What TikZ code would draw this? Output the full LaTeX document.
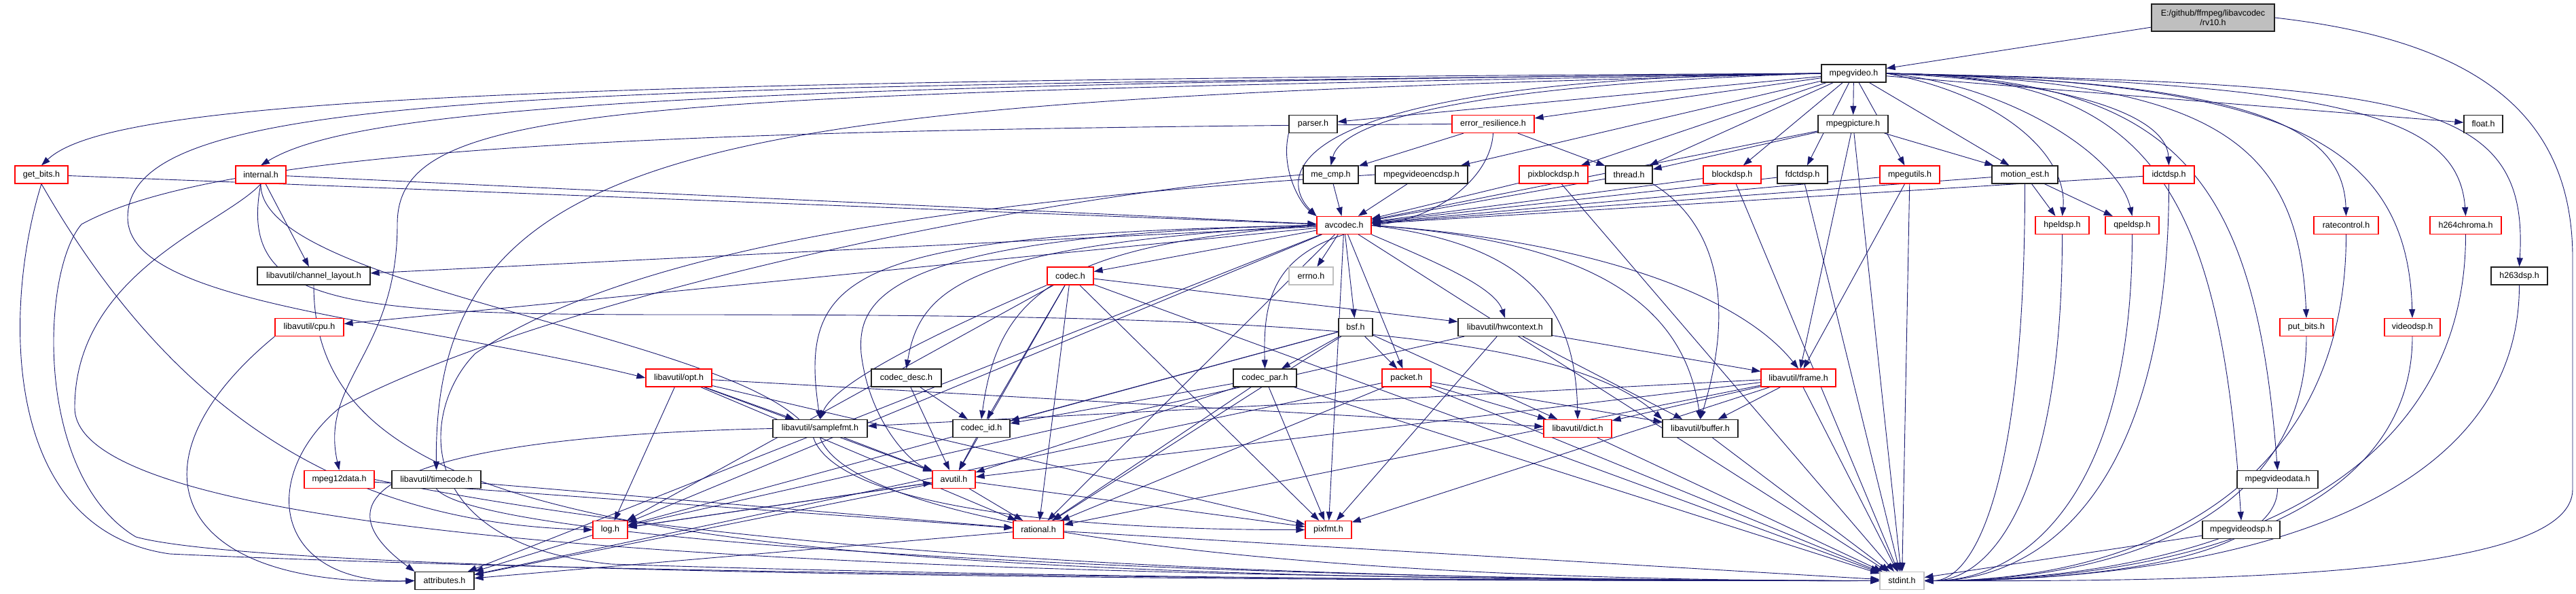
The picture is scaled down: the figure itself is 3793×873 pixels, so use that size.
\documentclass[tikz,border=0pt]{standalone}
\usepackage{fontspec}
\setmainfont{Liberation Sans}
\usetikzlibrary{arrows.meta}
\pgfdeclarelayer{bg}
\pgfdeclarelayer{edgelayer}
\pgfsetlayers{bg,edgelayer,main}
\definecolor{edgec}{HTML}{191970}
\definecolor{rootfill}{HTML}{BFBFBF}
\definecolor{redb}{HTML}{FF0000}
\definecolor{grayb}{HTML}{BFBFBF}
\definecolor{blackb}{HTML}{202020}
\tikzset{
  nd/.style={rectangle, draw, line width=1.2pt, fill=white, inner sep=0pt, minimum height=26pt, font=\fontsize{12.5}{14}\selectfont, text=black},
  bk/.style={nd, draw=blackb},
  rd/.style={nd, draw=redb},
  gy/.style={nd, draw=grayb},
  rt/.style={nd, draw=blackb, fill=rootfill, minimum height=40pt, align=center},
  e/.style={draw=edgec, line width=0.9pt, -{Triangle[length=13pt,width=9pt]}},
}
\begin{document}
\begin{tikzpicture}[x=1pt,y=1pt]
\begin{pgfonlayer}{bg}
\fill[white] (0,0) rectangle (3793,-873);
\end{pgfonlayer}
\useasboundingbox (0,0) rectangle (3793,-873);

\node[rt, minimum width=181pt] (root) at (3258.5,-26) {E:/github/ffmpeg/libavcodec\\/rv10.h};
\node[bk, minimum width=95pt] (mpegvideo) at (2729.5,-108) {mpegvideo.h};
\node[bk, minimum width=71pt] (parser) at (1933.5,-182.5) {parser.h};
\node[rd, minimum width=121pt] (errres) at (2198.5,-182.5) {error\_resilience.h};
\node[bk, minimum width=103pt] (mpegpicture) at (2728.5,-182.5) {mpegpicture.h};
\node[bk, minimum width=57pt] (float) at (3656.5,-182.5) {float.h};
\node[rd, minimum width=78pt] (getbits) at (61,-257) {get\_bits.h};
\node[rd, minimum width=74pt] (internal) at (384,-257) {internal.h};
\node[bk, minimum width=81pt] (mecmp) at (1959.5,-257) {me\_cmp.h};
\node[bk, minimum width=136pt] (mvencdsp) at (2093,-257) {mpegvideoencdsp.h};
\node[rd, minimum width=101pt] (pixblockdsp) at (2287.5,-257) {pixblockdsp.h};
\node[bk, minimum width=69pt] (thread) at (2398.5,-257) {thread.h};
\node[rd, minimum width=85pt] (blockdsp) at (2550.5,-257) {blockdsp.h};
\node[bk, minimum width=74pt] (fdctdsp) at (2654,-257) {fdctdsp.h};
\node[rd, minimum width=88pt] (mpegutils) at (2812,-257) {mpegutils.h};
\node[bk, minimum width=97pt] (motionest) at (2981.5,-257) {motion\_est.h};
\node[rd, minimum width=75pt] (idctdsp) at (3193.5,-257) {idctdsp.h};
\node[rd, minimum width=80pt] (avcodec) at (1979,-331.5) {avcodec.h};
\node[rd, minimum width=79pt] (hpeldsp) at (3036.5,-331.5) {hpeldsp.h};
\node[rd, minimum width=79pt] (qpeldsp) at (3139.5,-331.5) {qpeldsp.h};
\node[rd, minimum width=95pt] (ratecontrol) at (3454.5,-331.5) {ratecontrol.h};
\node[rd, minimum width=105pt] (h264chroma) at (3630.5,-331.5) {h264chroma.h};
\node[bk, minimum width=166pt] (chlayout) at (462,-406) {libavutil/channel\_layout.h};
\node[gy, minimum width=65pt] (errno) at (1930.5,-406) {errno.h};
\node[rd, minimum width=68pt] (codec) at (1576,-406) {codec.h};
\node[bk, minimum width=83pt] (h263dsp) at (3709.5,-406) {h263dsp.h};
\node[rd, minimum width=101pt] (cpu) at (455.5,-481.5) {libavutil/cpu.h};
\node[bk, minimum width=50pt] (bsf) at (1996,-481.5) {bsf.h};
\node[bk, minimum width=138pt] (hwcontext) at (2216,-481.5) {libavutil/hwcontext.h};
\node[rd, minimum width=78pt] (putbits) at (3396,-481.5) {put\_bits.h};
\node[rd, minimum width=82pt] (videodsp) at (3552,-481.5) {videodsp.h};
\node[rd, minimum width=97pt] (opt) at (999.5,-556) {libavutil/opt.h};
\node[bk, minimum width=103pt] (codecdesc) at (1334.5,-556) {codec\_desc.h};
\node[bk, minimum width=93pt] (codecpar) at (1862.5,-556) {codec\_par.h};
\node[rd, minimum width=72pt] (packet) at (2071,-556) {packet.h};
\node[rd, minimum width=110pt] (frame) at (2648,-556) {libavutil/frame.h};
\node[bk, minimum width=139pt] (samplefmt) at (1207.5,-630.5) {libavutil/samplefmt.h};
\node[bk, minimum width=84pt] (codecid) at (1445,-630.5) {codec\_id.h};
\node[rd, minimum width=100pt] (dict) at (2323,-630.5) {libavutil/dict.h};
\node[bk, minimum width=111pt] (buffer) at (2503.5,-630.5) {libavutil/buffer.h};
\node[rd, minimum width=103pt] (mpeg12data) at (499.5,-705.5) {mpeg12data.h};
\node[bk, minimum width=131pt] (timecode) at (642.5,-705.5) {libavutil/timecode.h};
\node[rd, minimum width=63pt] (avutil) at (1404.5,-705.5) {avutil.h};
\node[bk, minimum width=119pt] (mvdata) at (3353.5,-705.5) {mpegvideodata.h};
\node[rd, minimum width=51pt] (log) at (898.5,-779.5) {log.h};
\node[rd, minimum width=74pt] (rational) at (1529,-779.5) {rational.h};
\node[rd, minimum width=68pt] (pixfmt) at (1956,-779.5) {pixfmt.h};
\node[bk, minimum width=114pt] (mvdsp) at (3300,-779.5) {mpegvideodsp.h};
\node[bk, minimum width=87pt] (attributes) at (654.5,-854.5) {attributes.h};
\node[gy, minimum width=65pt] (stdint) at (2800.5,-854.5) {stdint.h};

\begin{pgfonlayer}{edgelayer}
% root
\draw[e] (root) -- (mpegvideo);
\draw[e] (root.east) .. controls (3650,-60) and (3788,-170) .. (3788,-380) -- (3788,-720) .. controls (3788,-845) and (3300,-856) .. (stdint.east);
% mpegvideo, to the left
\draw[e] (mpegvideo.west) .. controls (700,-118) and (160,-150) .. (getbits.north);
\draw[e] (mpegvideo.west) .. controls (1000,-125) and (520,-160) .. (internal.north);
\draw[e] (mpegvideo.west) .. controls (800,-130) and (188,-130) .. (188,-320) .. controls (188,-450) and (600,-470) .. (opt.west);
\draw[e] (mpegvideo.west) .. controls (900,-140) and (585,-150) .. (585,-330) .. controls (585,-520) and (470,-560) .. (mpeg12data.north);
\draw[e] (mpegvideo.west) .. controls (1100,-150) and (638,-180) .. (timecode.north);
\draw[e] (mpegvideo.west) .. controls (1880,-115) and (1880,-260) .. (avcodec.north west);
\draw[e] (mpegvideo) -- (parser);
\draw[e] (mpegvideo) -- (errres);
\draw[e] (mpegvideo.west) .. controls (2150,-125) and (1975,-180) .. (mecmp.north);
\draw[e] (mpegvideo) -- (mvencdsp);
\draw[e] (mpegvideo) -- (pixblockdsp);
\draw[e] (mpegvideo) -- (thread);
\draw[e] (mpegvideo) -- (blockdsp);
\draw[e] (mpegvideo) -- (fdctdsp);
\draw[e] (mpegvideo) -- (mpegpicture);
\draw[e] (mpegvideo) -- (mpegutils);
\draw[e] (mpegvideo) -- (motionest);
\draw[e] (mpegvideo) -- (float);
% mpegvideo, to the right
\draw[e] (mpegvideo.east) .. controls (2950,-140) and (3045,-230) .. (hpeldsp.north);
\draw[e] (mpegvideo.east) .. controls (2960,-125) and (3120,-230) .. (qpeldsp.north);
\draw[e] (mpegvideo.east) .. controls (3050,-120) and (3190,-170) .. (idctdsp.north);
\draw[e] (mpegvideo.east) .. controls (3300,-120) and (3450,-180) .. (ratecontrol.north);
\draw[e] (mpegvideo.east) .. controls (3450,-122) and (3620,-170) .. (h264chroma.north);
\draw[e] (mpegvideo.east) .. controls (3550,-125) and (3725,-140) .. (h263dsp.north);
\draw[e] (mpegvideo.east) .. controls (3250,-118) and (3385,-200) .. (putbits.north);
\draw[e] (mpegvideo.east) .. controls (3350,-120) and (3545,-200) .. (videodsp.north);
\draw[e] (mpegvideo.east) .. controls (3200,-115) and (3320,-250) .. (mvdata.north);
\draw[e] (mpegvideo.east) .. controls (3150,-112) and (3268,-250) .. (mvdsp.north);
% right column into stdint
\draw[e] (motionest.south) .. controls +(0,-440) and +(75,0) .. (stdint.east);
\draw[e] (idctdsp.south) .. controls +(0,-440) and +(180,0) .. (stdint.east);
\draw[e] (hpeldsp.south) .. controls +(0,-380) and +(100,0) .. (stdint.east);
\draw[e] (qpeldsp.south) .. controls +(0,-380) and +(150,0) .. (stdint.east);
\draw[e] (ratecontrol.south) .. controls +(0,-380) and +(310,0) .. (stdint.east);
\draw[e] (h264chroma.south) .. controls +(0,-380) and +(400,0) .. (stdint.east);
\draw[e] (h263dsp.south) .. controls +(0,-330) and +(440,0) .. (stdint.east);
\draw[e] (putbits.south) .. controls +(0,-270) and +(280,0) .. (stdint.east);
\draw[e] (videodsp.south) .. controls +(0,-270) and +(360,0) .. (stdint.east);
\draw[e] (mvdata.south) .. controls +(0,-100) and +(260,0) .. (stdint.east);
\draw[e] (mvdsp) -- (stdint);
% second row
\draw[e] (getbits) -- (avcodec);
\draw[e] (getbits.south) .. controls (250,-600) and (500,-770) .. (log.west);
\draw[e] (getbits.south) .. controls (5,-450) and (0,-780) .. (250,-815) .. controls (1000,-850) and (2400,-855) .. (stdint.west);
\draw[e] (internal) -- (avcodec);
\draw[e] (internal) -- (chlayout);
\draw[e] (internal.south) .. controls (350,-450) and (500,-463) .. (1000,-463) .. controls (1800,-463) and (2300,-480) .. (buffer.north west);
\draw[e] (internal.south) .. controls (380,-430) and (1150,-500) .. (1200,-650) .. controls (1250,-750) and (1600,-780) .. (pixfmt.west);
\draw[e] (internal.south) .. controls (330,-330) and (110,-400) .. (110,-600) .. controls (110,-820) and (1500,-850) .. (stdint.west);
\draw[e] (parser.south west) .. controls (1885,-250) and (1915,-300) .. (avcodec.north west);
\draw[e] (errres.south) .. controls (2195,-260) and (2120,-320) .. (avcodec.east);
\draw[e] (errres) -- (mecmp);
\draw[e] (errres) -- (thread);
\draw[e] (errres.west) .. controls (1000,-190) and (330,-215) .. (120,-330) .. controls (60,-400) and (50,-700) .. (200,-790) .. controls (400,-845) and (1800,-855) .. (stdint.west);
\draw[e] (mecmp) -- (avcodec);
\draw[e] (mecmp.west) .. controls (1500,-290) and (800,-440) .. (500,-600) .. controls (380,-700) and (400,-860) .. (attributes.west);
\draw[e] (mvencdsp) -- (avcodec);
\draw[e] (mvencdsp.west) .. controls (1500,-290) and (950,-350) .. (700,-520) .. controls (620,-600) and (600,-800) .. (900,-830) .. controls (1500,-850) and (2300,-855) .. (stdint.west);
\draw[e] (pixblockdsp) -- (avcodec);
\draw[e] (pixblockdsp) -- (stdint);
\draw[e] (thread) -- (avcodec);
\draw[e] (thread.south east) .. controls (2530,-330) and (2555,-450) .. (buffer.north);
\draw[e] (blockdsp) -- (avcodec);
\draw[e] (blockdsp) -- (stdint);
\draw[e] (fdctdsp) -- (avcodec);
\draw[e] (fdctdsp) -- (stdint);
\draw[e] (mpegpicture) -- (avcodec);
\draw[e] (mpegpicture) -- (thread);
\draw[e] (mpegpicture) -- (motionest);
\draw[e] (mpegpicture) -- (frame);
\draw[e] (mpegpicture) -- (stdint);
\draw[e] (mpegutils) -- (avcodec);
\draw[e] (mpegutils) -- (frame);
\draw[e] (mpegutils) -- (stdint);
\draw[e] (motionest) -- (avcodec);
\draw[e] (motionest) -- (hpeldsp);
\draw[e] (motionest) -- (qpeldsp);
\draw[e] (idctdsp) -- (avcodec);
% avcodec
\draw[e] (avcodec) -- (chlayout);
\draw[e] (avcodec) -- (errno);
\draw[e] (avcodec) -- (codec);
\draw[e] (avcodec) -- (cpu);
\draw[e] (avcodec) -- (bsf);
\draw[e] (avcodec.south east) .. controls (2100,-380) and (2200,-420) .. (hwcontext.north);
\draw[e] (avcodec.west) .. controls (1430,-360) and (1355,-420) .. (codecdesc.north);
\draw[e] (avcodec.south) .. controls (1870,-380) and (1860,-450) .. (codecpar.north);
\draw[e] (avcodec.west) .. controls (1560,-360) and (1470,-430) .. (codecid.north);
\draw[e] (avcodec) -- (packet);
\draw[e] (avcodec.east) .. controls (2300,-350) and (2550,-420) .. (frame.north);
\draw[e] (avcodec.east) .. controls (2250,-360) and (2320,-450) .. (dict.north);
\draw[e] (avcodec.east) .. controls (2350,-355) and (2480,-450) .. (buffer.north);
\draw[e] (avcodec.west) .. controls (1250,-345) and (1175,-400) .. (samplefmt.north);
\draw[e] (avcodec.west) .. controls (1300,-345) and (1262,-440) .. (1268,-520) .. controls (1280,-620) and (1340,-680) .. (avutil.north west);
\draw[e] (avcodec) -- (attributes);
\draw[e] (avcodec) -- (log);
\draw[e] (avcodec) -- (pixfmt);
\draw[e] (avcodec) -- (rational);
\draw[e] (avcodec) -- (stdint);
% codec
\draw[e] (codec) -- (avutil);
\draw[e] (codec) -- (hwcontext);
\draw[e] (codec) -- (log);
\draw[e] (codec) -- (pixfmt);
\draw[e] (codec) -- (rational);
\draw[e] (codec.south west) .. controls (1400,-480) and (1230,-560) .. (samplefmt.north);
\draw[e] (codec) -- (codecid);
\draw[e] (codec) -- (stdint);
\draw[e] (chlayout.south) .. controls +(0,-350) and +(-1800,0) .. (stdint.west);
\draw[e] (cpu.south west) .. controls (180,-680) and (250,-865) .. (attributes.west);
% bsf, hwcontext, packet, frame
\draw[e] (bsf) -- (dict);
\draw[e] (bsf) -- (log);
\draw[e] (bsf) -- (rational);
\draw[e] (bsf) -- (codecid);
\draw[e] (bsf) -- (codecpar);
\draw[e] (bsf) -- (packet);
\draw[e] (hwcontext) -- (buffer);
\draw[e] (hwcontext) -- (frame);
\draw[e] (hwcontext) -- (log);
\draw[e] (hwcontext) -- (pixfmt);
\draw[e] (packet) -- (attributes);
\draw[e] (packet) -- (buffer);
\draw[e] (packet) -- (dict);
\draw[e] (packet) -- (rational);
\draw[e] (packet) -- (stdint);
\draw[e] (frame) -- (avutil);
\draw[e] (frame) -- (buffer);
\draw[e] (frame) -- (dict);
\draw[e] (frame) -- (rational);
\draw[e] (frame) -- (samplefmt);
\draw[e] (frame) -- (pixfmt);
\draw[e] (frame) -- (stdint);
% opt, codec_desc, codec_par, codec_id
\draw[e] (opt) -- (dict);
\draw[e] (opt) -- (samplefmt);
\draw[e] (opt) -- (avutil);
\draw[e] (opt) -- (rational);
\draw[e] (opt) -- (log);
\draw[e] (opt) -- (pixfmt);
\draw[e] (codecdesc) -- (avutil);
\draw[e] (codecdesc) -- (codecid);
\draw[e] (codecpar) -- (avutil);
\draw[e] (codecpar) -- (rational);
\draw[e] (codecpar) -- (pixfmt);
\draw[e] (codecpar) -- (codecid);
\draw[e] (codecpar) -- (stdint);
\draw[e] (codecid) -- (avutil);
% lower rows
\draw[e] (samplefmt) -- (avutil);
\draw[e] (samplefmt.west) .. controls (700,-640) and (420,-700) .. (attributes.north west);
\draw[e] (samplefmt.south) .. controls +(50,-130) and +(-900,0) .. (stdint.west);
\draw[e] (dict) -- (stdint);
\draw[e] (buffer) -- (stdint);
\draw[e] (avutil) -- (rational);
\draw[e] (avutil) -- (log);
\draw[e] (avutil) -- (pixfmt);
\draw[e] (avutil) -- (attributes);
\draw[e] (log) -- (avutil);
\draw[e] (log) -- (attributes);
\draw[e] (rational) -- (attributes);
\draw[e] (rational) -- (stdint);
\draw[e] (timecode) -- (rational);
\draw[e] (timecode.south) .. controls +(60,-80) and +(-1000,0) .. (stdint.west);
\draw[e] (mpeg12data) -- (rational);
\draw[e] (mpeg12data.east) .. controls +(400,-80) and +(-1200,0) .. (stdint.west);
\end{pgfonlayer}
\end{tikzpicture}
\end{document}
